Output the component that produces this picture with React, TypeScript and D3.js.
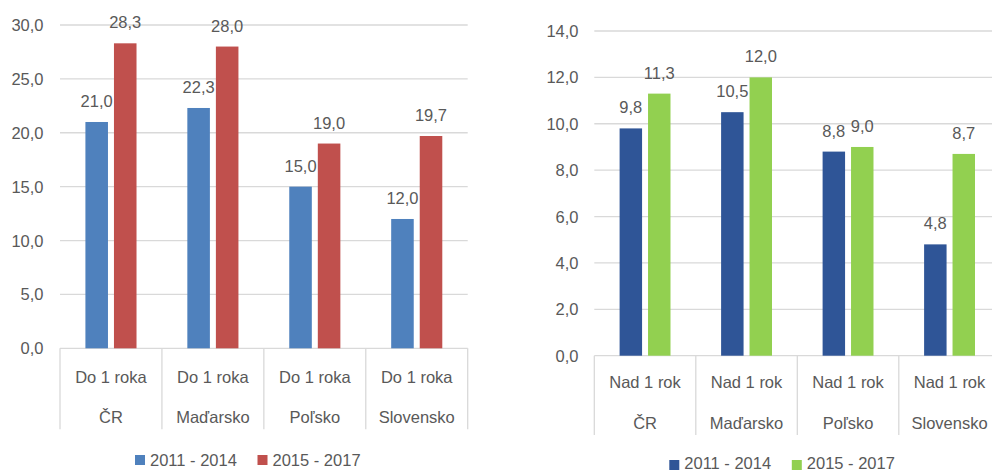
import React from "react";
import * as d3 from "d3";

const countries = ["ČR", "Maďarsko", "Poľsko", "Slovensko"];
const seriesNames = ["2011 - 2014", "2015 - 2017"];

const leftTopLabel = "Do 1 roka";
const leftValuesA = [21.0, 22.3, 15.0, 12.0];
const leftValuesB = [28.3, 28.0, 19.0, 19.7];
const leftTicks = [0, 5, 10, 15, 20, 25, 30];
const leftColors = ["#4F81BD", "#C0504D"];

const rightTopLabel = "Nad 1 rok";
const rightValuesA = [9.8, 10.5, 8.8, 4.8];
const rightValuesB = [11.3, 12.0, 9.0, 8.7];
const rightTicks = [0, 2, 4, 6, 8, 10, 12, 14];
const rightColors = ["#2F5597", "#92D050"];

const FONT = "'Liberation Sans', Arial, sans-serif";
const TXT = "#595959";
const GRID = "#d9d9d9";
const fmt = (v: number) => d3.format(".1f")(v).replace(".", ",");

type PanelProps = {
  x0: number;
  x1: number;
  gridEnd: number;
  yBottom: number;
  yTop: number;
  yMax: number;
  ticks: number[];
  tickRight: number;
  topLabel: string;
  a: number[];
  b: number[];
  colors: string[];
  line1: number;
  line2: number;
  sepLen: number;
  legendX: number;
  legendY: number;
  legendTextDy: number;
};

function Panel(p: PanelProps) {
  const x = d3.scaleBand<string>().domain(countries).range([p.x0, p.x1]).padding(0);
  const xs = d3
    .scaleBand<string>()
    .domain(seriesNames)
    .range([0, x.bandwidth()])
    .paddingInner(0.21)
    .paddingOuter(0.89);
  const y = d3.scaleLinear().domain([0, p.yMax]).range([p.yBottom, p.yTop]);
  const series = [p.a, p.b];
  const bounds = [...countries.map((c) => x(c) as number), p.x1];
  return (
    <g>
      {p.ticks.map((t) => (
        <g key={t}>
          <line x1={p.x0} x2={p.gridEnd} y1={y(t)} y2={y(t)} stroke={GRID} strokeWidth={1.3} />
          <text x={p.tickRight} y={y(t) + 6} textAnchor="end" fontSize={16.5} fill={TXT} fontFamily={FONT}>
            {fmt(t)}
          </text>
        </g>
      ))}
      {bounds.map((bx, i) => (
        <line key={i} x1={bx} x2={bx} y1={p.yBottom} y2={p.yBottom + p.sepLen} stroke={GRID} strokeWidth={1.3} />
      ))}
      {series.map((vals, si) =>
        countries.map((c, ci) => {
          const bx = (x(c) as number) + (xs(seriesNames[si]) as number);
          const w = xs.bandwidth();
          return (
            <g key={c + si}>
              <rect x={bx} y={y(vals[ci])} width={w} height={p.yBottom - y(vals[ci])} fill={p.colors[si]} />
              <text
                x={bx + w / 2}
                y={y(vals[ci]) - 15}
                textAnchor="middle"
                fontSize={16.5}
                fill={TXT}
                fontFamily={FONT}
              >
                {fmt(vals[ci])}
              </text>
            </g>
          );
        })
      )}
      {countries.map((c) => {
        const cx = (x(c) as number) + x.bandwidth() / 2;
        return (
          <g key={c}>
            <text x={cx} y={p.yBottom + p.line1} textAnchor="middle" fontSize={16.5} fill={TXT} fontFamily={FONT}>
              {p.topLabel}
            </text>
            <text x={cx} y={p.yBottom + p.line2} textAnchor="middle" fontSize={16.5} fill={TXT} fontFamily={FONT}>
              {c}
            </text>
          </g>
        );
      })}
      {seriesNames.map((s, i) => {
        const lx = p.legendX + i * 122.5;
        return (
          <g key={s}>
            <rect x={lx} y={p.legendY} width={10} height={10} fill={p.colors[i]} />
            <text x={lx + 15} y={p.legendY + p.legendTextDy} fontSize={16.5} fill={TXT} fontFamily={FONT}>
              {s}
            </text>
          </g>
        );
      })}
    </g>
  );
}

export default function App() {
  return (
    <svg
      width={992}
      height={470}
      style={{ position: "absolute", left: 0, top: 0, display: "block", background: "#fff" }}
    >
      <rect width={992} height={470} fill="#fff" />
      <Panel
        x0={60}
        x1={467.7}
        gridEnd={467.7}
        yBottom={348.3}
        yTop={25}
        yMax={30}
        ticks={leftTicks}
        tickRight={43.5}
        topLabel={leftTopLabel}
        a={leftValuesA}
        b={leftValuesB}
        colors={leftColors}
        line1={34.4}
        line2={74.4}
        sepLen={81}
        legendX={135}
        legendY={455}
        legendTextDy={11}
      />
      <Panel
        x0={594.3}
        x1={1000.3}
        gridEnd={1000}
        yBottom={355.7}
        yTop={31}
        yMax={14}
        ticks={rightTicks}
        tickRight={578.5}
        topLabel={rightTopLabel}
        a={rightValuesA}
        b={rightValuesB}
        colors={rightColors}
        line1={32.6}
        line2={73.3}
        sepLen={79.3}
        legendX={669.3}
        legendY={460}
        legendTextDy={8.5}
      />
    </svg>
  );
}
